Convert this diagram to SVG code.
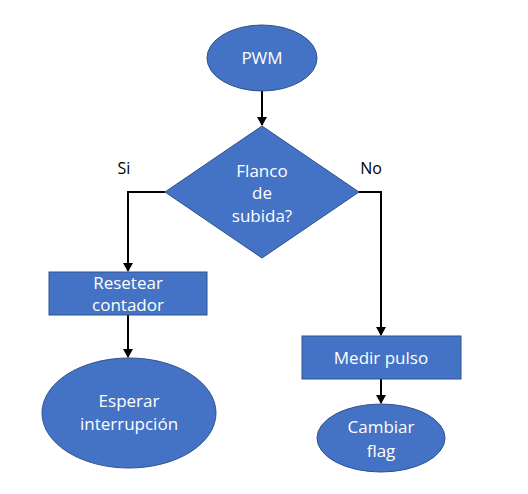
<svg xmlns="http://www.w3.org/2000/svg" width="528" height="494" viewBox="0 0 528 494">
<defs>
<style>
.n{fill:#4472C4;stroke:#2F528F;stroke-width:1}
.t{font-family:"Open Sans","Liberation Sans",sans-serif;font-size:17px;fill:#fff;text-anchor:middle}
.l{font-family:"Open Sans","Liberation Sans",sans-serif;font-size:16px;fill:#000;text-anchor:middle}
.c{fill:none;stroke:#000;stroke-width:2}
</style>
<marker id="a" markerWidth="10" markerHeight="10" refX="8" refY="5" orient="auto" markerUnits="userSpaceOnUse"><path d="M0,0 L9,5 L0,10 Z" fill="#000"/></marker>
</defs>
<rect width="528" height="494" fill="#fff"/>
<g id="connectors">
<path class="c" d="M262,91 V125" marker-end="url(#a)"/>
<path class="c" d="M165,192 H128 V271" marker-end="url(#a)"/>
<path class="c" d="M358,192 H381 V335" marker-end="url(#a)"/>
<path class="c" d="M128,315 V357" marker-end="url(#a)"/>
<path class="c" d="M381,379 V403" marker-end="url(#a)"/>
</g>
<g id="pwm"><ellipse class="n" cx="262" cy="58" rx="55" ry="33"/><text class="t" x="262" y="64">PWM</text></g>
<g id="decision"><polygon class="n" points="262,126 359,192 262,258 165,192"/>
<text class="t" x="262" y="177">Flanco</text><text class="t" x="262" y="199">de</text><text class="t" x="262" y="222">subida?</text></g>
<g id="label-si"><text class="l" x="124" y="174">Si</text></g>
<g id="label-no"><text class="l" x="371" y="174">No</text></g>
<g id="resetear"><rect class="n" x="49" y="272" width="158" height="43"/>
<text class="t" x="128" y="289">Resetear</text><text class="t" x="128" y="311">contador</text></g>
<g id="esperar"><ellipse class="n" cx="129" cy="413" rx="87" ry="55"/>
<text class="t" x="129" y="407">Esperar</text><text class="t" x="129" y="430">interrupción</text></g>
<g id="medir"><rect class="n" x="302" y="336" width="159" height="43"/>
<text class="t" x="381" y="364">Medir pulso</text></g>
<g id="cambiar"><ellipse class="n" cx="381" cy="438" rx="64" ry="34"/>
<text class="t" x="381" y="433">Cambiar</text><text class="t" x="381" y="457">flag</text></g>
</svg>
